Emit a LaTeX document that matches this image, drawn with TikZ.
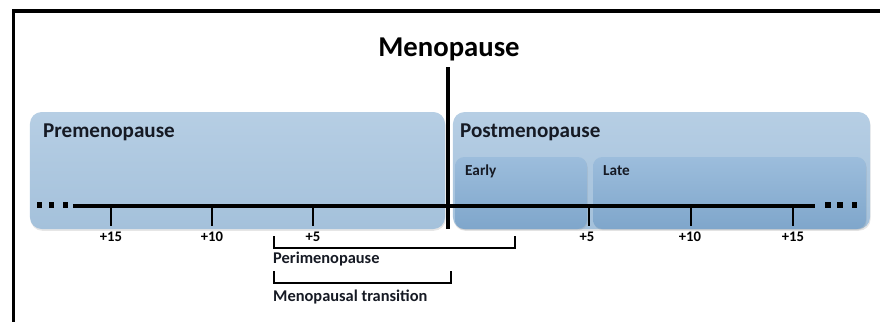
\documentclass[tikz,border=0pt]{standalone}
\usepackage{fontspec}
\setmainfont{Carlito}
\usetikzlibrary{shadows}

\definecolor{phasetop}{RGB}{182,206,228}
\definecolor{phasebot}{RGB}{164,193,219}
\definecolor{subtop}{RGB}{156,189,220}
\definecolor{subbot}{RGB}{127,166,203}
\definecolor{labeltext}{RGB}{22,26,36}

\tikzset{
  phasebox/.style={rounded corners=10pt, top color=phasetop, bottom color=phasebot, draw=none,
    minimum height=3.51cm, drop shadow={opacity=0.2, shadow xshift=0.5pt, shadow yshift=-1.5pt}},
  subbox/.style={rounded corners=8pt, top color=subtop, bottom color=subbot, draw=none,
    minimum height=2.16cm, drop shadow={opacity=0.2, shadow xshift=0.5pt, shadow yshift=-1pt}},
  phaselabel/.style={anchor=base west, inner sep=0pt, text=labeltext, font=\bfseries\fontsize{18}{20}\selectfont},
  sublabel/.style={anchor=base west, inner sep=0pt, text=labeltext, font=\bfseries\fontsize{14}{16}\selectfont},
  ticklabel/.style={anchor=base, inner sep=0pt, font=\bfseries\fontsize{12.5}{14}\selectfont},
  dotmark/.style={fill=black, minimum size=4.5pt, inner sep=0pt},
  tickmark/.style={line width=2pt},
  bracket/.style={line width=2.4pt},
}

\begin{document}
\begin{tikzpicture}[x={(0.03cm,0cm)},y={(0cm,-0.03cm)}]
\useasboundingbox (0,0) rectangle (880,322);

\draw[line width=3.4pt] (880,11) -- (13.5,11) -- (13.5,322);

\node[phasebox, minimum width=12.45cm] (prem) at (237.5,170.5) {};
\node[phasebox, minimum width=12.51cm] (post) at (661.5,170.5) {};
\node[subbox, minimum width=3.96cm] (early) at (521,193) {};
\node[subbox, minimum width=8.19cm] (late) at (729.5,193) {};

\node[phaselabel] (premlab) at (43,137) {Premenopause};
\node[phaselabel] (postlab) at (460,137) {Postmenopause};
\node[sublabel, font=\bfseries\fontsize{13}{15}\selectfont] (earlylab) at (465,175) {Early};
\node[sublabel, font=\bfseries\fontsize{13}{15}\selectfont] (latelab) at (603,175) {Late};

\node[anchor=base, inner sep=0pt, font=\bfseries\fontsize{24.5}{28}\selectfont] (meno) at (449,56) {Menopause};

\coordinate (axl) at (73,206);
\coordinate (axr) at (815,206);
\draw[line width=3.4pt] (axl) -- (axr);

\node[dotmark] (dl1) at (39.5,205) {};
\node[dotmark] (dl2) at (51.5,205) {};
\node[dotmark] (dl3) at (65.5,205) {};
\node[dotmark] (dr1) at (828,205) {};
\node[dotmark] (dr2) at (840,205) {};
\node[dotmark] (dr3) at (854.5,205) {};

\coordinate (tk1) at (111,206);
\coordinate (tk2) at (212,206);
\coordinate (tk3) at (313,206);
\coordinate (tk4) at (589,206);
\coordinate (tk5) at (691,206);
\coordinate (tk6) at (793,206);
\draw[tickmark] (tk1) -- ++(0,20);
\draw[tickmark] (tk2) -- ++(0,20);
\draw[tickmark] (tk3) -- ++(0,20);
\draw[tickmark] (tk4) -- ++(0,20);
\draw[tickmark] (tk5) -- ++(0,20);
\draw[tickmark] (tk6) -- ++(0,20);

\node[ticklabel] (lb1) at (111,241) {+15};
\node[ticklabel] (lb2) at (212,241) {+10};
\node[ticklabel] (lb3) at (313,241) {+5};
\node[ticklabel] (lb4) at (587,241) {+5};
\node[ticklabel] (lb5) at (690,241) {+10};
\node[ticklabel] (lb6) at (793,241) {+15};

\coordinate (mtop) at (448,67);
\coordinate (mbot) at (448,229);
\draw[line width=3.4pt] (mtop) -- (mbot);

\coordinate (peril) at (274,236);
\coordinate (perir) at (515,236);
\draw[bracket] (peril) -- ++(0,12) -| (perir);
\node[sublabel] (perilab) at (273,263) {Perimenopause};

\coordinate (transl) at (274,271);
\coordinate (transr) at (451,271);
\draw[bracket] (transl) -- ++(0,12) -| (transr);
\node[sublabel] (translab) at (273,301) {Menopausal transition};
\end{tikzpicture}
\end{document}
